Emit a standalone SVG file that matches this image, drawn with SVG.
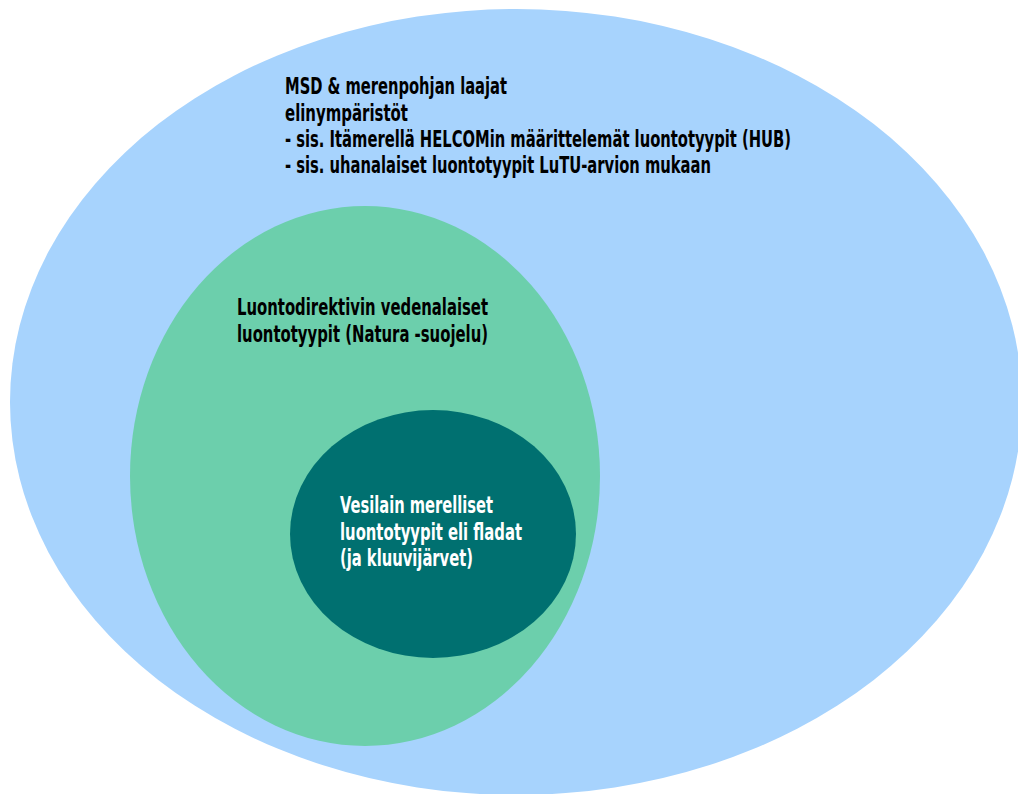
<svg xmlns="http://www.w3.org/2000/svg" width="1018" height="794" viewBox="0 0 1018 794">
<style>
.t{font-family:'DejaVu Sans Condensed','DejaVu Sans',sans-serif;font-weight:bold;font-size:22.5px;font-stretch:condensed}
.dk{fill:#000}
.wt{fill:#fff}
</style>
<rect width="1018" height="794" fill="#fff"/>
<g id="msd">
<ellipse cx="516" cy="402" rx="506" ry="393" fill="#a7d3fd"/>
<text class="t dk" x="285" y="94" textLength="222" lengthAdjust="spacingAndGlyphs">MSD &amp; merenpohjan laajat</text>
<text class="t dk" x="285" y="121" textLength="123" lengthAdjust="spacingAndGlyphs">elinympäristöt</text>
<text class="t dk" x="285" y="147" textLength="506" lengthAdjust="spacingAndGlyphs">- sis. Itämerellä HELCOMin määrittelemät luontotyypit (HUB)</text>
<text class="t dk" x="285" y="173" textLength="426" lengthAdjust="spacingAndGlyphs">- sis. uhanalaiset luontotyypit LuTU-arvion mukaan</text>
</g>
<g id="natura">
<ellipse cx="365" cy="476" rx="235" ry="270" fill="#6ccfac"/>
<text class="t dk" x="237" y="315" textLength="251" lengthAdjust="spacingAndGlyphs">Luontodirektivin vedenalaiset</text>
<text class="t dk" x="237" y="342" textLength="251" lengthAdjust="spacingAndGlyphs">luontotyypit (Natura -suojelu)</text>
</g>
<g id="vesilaki">
<ellipse cx="433" cy="534" rx="143" ry="124" fill="#007070"/>
<text class="t wt" x="340" y="513" textLength="153" lengthAdjust="spacingAndGlyphs">Vesilain merelliset</text>
<text class="t wt" x="340" y="540" textLength="182" lengthAdjust="spacingAndGlyphs">luontotyypit eli fladat</text>
<text class="t wt" x="340" y="566" textLength="133" lengthAdjust="spacingAndGlyphs">(ja kluuvijärvet)</text>
</g>
<g id="connectors"/>
</svg>
